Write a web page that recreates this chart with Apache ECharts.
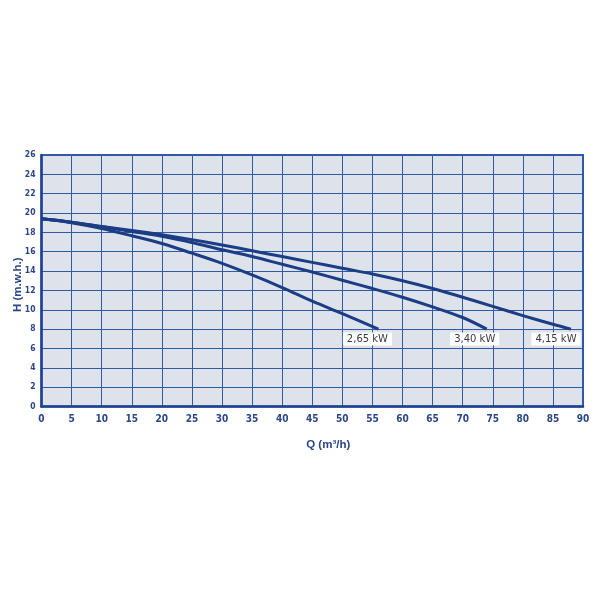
<!DOCTYPE html>
<html><head><meta charset="utf-8">
<script src="https://cdn.jsdelivr.net/npm/echarts@6/dist/echarts.min.js"></script>
<style>html,body{margin:0;padding:0;background:#fff}#c{width:600px;height:600px}</style>
</head><body><div id="c"></div>
<script>
const xTicks = [0,5,10,15,20,25,30,35,40,45,50,55,60,65,70,75,80,85,90];
const yTicks = [0,2,4,6,8,10,12,14,16,18,20,22,24,26];
const seriesNames = ['2,65 kW','3,40 kW','4,15 kW'];
const q265 = [0,5,10,15,20,25,30,35,40,45,50,56];
const h265 = [19.4,19.0,18.4,17.65,16.85,15.85,14.8,13.6,12.3,10.9,9.6,8.0];
const q340 = [0,5,10,15,20,25,30,35,40,45,50,55,60,65,70,74];
const h340 = [19.4,19.05,18.6,18.1,17.6,16.95,16.2,15.5,14.7,13.9,13.05,12.2,11.3,10.3,9.2,8.0];
const q415 = [0,5,10,15,20,25,30,35,40,45,50,55,60,65,70,75,80,85,88];
const h415 = [19.4,19.05,18.6,18.2,17.75,17.25,16.7,16.1,15.5,14.9,14.3,13.7,13.0,12.2,11.3,10.35,9.4,8.5,8.0];
const labelOffsets = [[-11,10],[-12,10],[-15,10]];

const navy = '#1b3d85';
const gridBlue = '#2f5aa6';
const condensed = '"DejaVu Sans Condensed", "DejaVu Sans", sans-serif';
const tickFont = {color:'#2a4687', fontFamily:condensed, fontWeight:'bold', fontSize:10};

function mk(qs, hs, i){
  return {name:seriesNames[i], type:'line', smooth:0.35, showSymbol:false, symbol:'none',
    data: qs.map((q,k)=>[q,hs[k]]), lineStyle:{color:navy, width:3}, itemStyle:{color:navy}, z:3,
    endLabel:{show:true, formatter:seriesNames[i], align:'center', verticalAlign:'middle',
      distance:0, offset:labelOffsets[i],
      backgroundColor:'#ffffff', color:'#3a3a3a', fontSize:10, fontFamily:'"DejaVu Sans", sans-serif',
      padding:[2,4,1,4]}};
}

const chart = echarts.init(document.getElementById('c'));
chart.setOption({
  backgroundColor:'#ffffff',
  animation:false,
  grid:{left:41.5, right:17, top:155, bottom:193.5, show:true, backgroundColor:'#dee3eb',
    borderColor:gridBlue, borderWidth:2, containLabel:false, outerBoundsMode:'none'},
  xAxis:{type:'value', min:0, max:90, interval:5,
    name:'Q (m³/h)', nameLocation:'middle', nameGap:32, nameMoveOverlap:false,
    nameTextStyle:{color:'#2a4687', fontFamily:'"Liberation Sans", sans-serif', fontWeight:'bold', fontSize:11.5,
      padding:[0,0,0,32]},
    axisLine:{show:true, lineStyle:{color:'#1f4290', width:2.5}},
    axisTick:{show:false},
    axisLabel:{...tickFont, margin:8, formatter:v=>xTicks.includes(v)?String(v):''},
    splitLine:{show:true, lineStyle:{color:gridBlue, width:1}}},
  yAxis:{type:'value', min:0, max:26, interval:2,
    name:'H (m.w.h.)', nameLocation:'middle', nameGap:18, nameRotate:90, nameMoveOverlap:false,
    nameTextStyle:{color:'#2a4687', fontFamily:'"Liberation Sans", sans-serif', fontWeight:'bold', fontSize:11.5,
      padding:[0,8,0,0]},
    axisLine:{show:true, lineStyle:{color:'#1f4290', width:2.5}},
    axisTick:{show:false},
    axisLabel:{...tickFont, fontSize:8.5, margin:6, formatter:v=>yTicks.includes(v)?String(v):''},
    splitLine:{show:true, lineStyle:{color:gridBlue, width:1}}},
  series:[mk(q265,h265,0), mk(q340,h340,1), mk(q415,h415,2)]
});
</script></body></html>
